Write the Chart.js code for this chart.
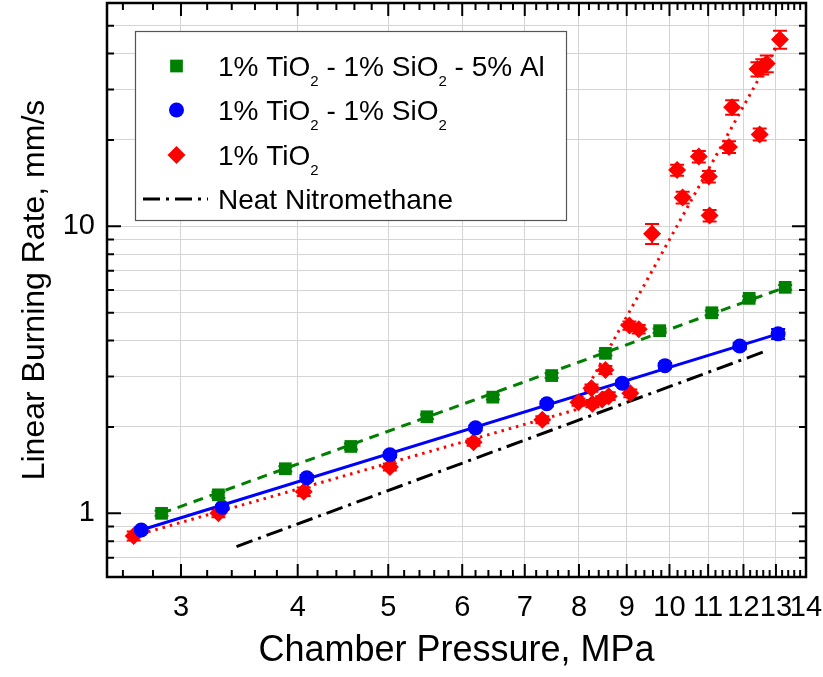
<!DOCTYPE html>
<html><head><meta charset="utf-8">
<script src="https://cdn.jsdelivr.net/npm/chart.js@4.4.1/dist/chart.umd.min.js"></script>
<style>html,body{margin:0;padding:0;background:#fff;}canvas{display:block;}</style>
</head><body>
<canvas id="c" width="823" height="677"></canvas>
<script>
// ---- data ----
const greenX = [2.86, 3.29, 3.88, 4.56, 5.50, 6.47, 7.48, 8.54, 9.76, 11.1, 12.17, 13.3];
const greenY = [1.0, 1.16, 1.43, 1.71, 2.17, 2.54, 3.02, 3.61, 4.33, 5.0, 5.61, 6.13];
const greenErr = [0.02, 0.03, 0.03, 0.04, 0.04, 0.05, 0.06, 0.06, 0.08, 0.09, 0.1, 0.12];

const blueX = [2.72, 3.32, 4.09, 5.02, 6.20, 7.39, 8.90, 9.89, 11.89, 13.07];
const blueY = [0.875, 1.05, 1.33, 1.60, 1.985, 2.41, 2.84, 3.27, 3.83, 4.22];
const blueErr = [0.02, 0.02, 0.03, 0.03, 0.04, 0.05, 0.06, 0.07, 0.1, 0.17];

const redX = [2.67, 3.29, 4.06, 5.02, 6.17, 7.31, 7.99, 8.25, 8.27, 8.47, 8.61, 8.54, 9.08, 9.06, 9.27, 9.58, 10.19, 10.33, 10.75, 11.02, 11.04, 11.58, 11.67, 12.49, 12.42, 12.57, 12.71, 13.13];
const redY = [0.834, 1.0, 1.19, 1.45, 1.77, 2.12, 2.44, 2.73, 2.41, 2.49, 2.56, 3.16, 2.62, 4.51, 4.38, 9.43, 15.7, 12.6, 17.5, 14.9, 10.9, 18.9, 26.0, 20.9, 35.3, 36.0, 36.9, 44.8];
const redErr = [0.03, 0.03, 0.04, 0.04, 0.05, 0.06, 0.07, 0.08, 0.07, 0.07, 0.08, 0.10, 0.08, 0.15, 0.15, 0.75, 0.7, 0.6, 0.8, 0.7, 0.5, 0.9, 1.5, 1.0, 2.0, 2.2, 2.5, 3.2];

// fit lines (end points)
const greenFitX = [2.86, 13.3];
const greenFitY = [1.0, 6.13];
const blueFitX = [2.72, 13.07];
const blueFitY = [0.875, 4.22];
const redFitX = [2.67, 7.92, 13.15];
const redFitY = [0.834, 2.29, 44.8];
const neatX = [3.44, 12.63];
const neatY = [0.766, 3.66];

// axis ticks
const xTickValues = [3, 4, 5, 6, 7, 8, 9, 10, 11, 12, 13, 14];
const yGridValues = [0.6, 0.7, 0.8, 0.9, 1, 2, 3, 4, 5, 6, 7, 8, 9, 10, 20, 30, 40, 50, 60];
const yLabelValues = [1, 10];

const seriesNames = ['1% TiO|2| - 1% SiO|2| - 5% Al', '1% TiO|2| - 1% SiO|2|', '1% TiO|2|', 'Neat Nitromethane'];

const GREEN = '#008000', BLUE = '#0000ff', RED = '#ff0000', BLACK = '#000000';
const FONT = '"Liberation Sans", Arial, sans-serif';

const pts = (xs, ys) => xs.map((x, i) => ({x: x, y: ys[i]}));

const errorBars = {
  id: 'errorBars',
  beforeDatasetsDraw(chart) {
    const {ctx, scales: {x, y}} = chart;
    const sets = [[greenX, greenY, greenErr, GREEN], [blueX, blueY, blueErr, BLUE], [redX, redY, redErr, RED]];
    ctx.save();
    ctx.lineWidth = 2;
    sets.forEach(([xs, ys, es, col]) => {
      ctx.strokeStyle = col;
      xs.forEach((xv, i) => {
        const px = x.getPixelForValue(xv);
        const p1 = y.getPixelForValue(ys[i] + es[i]);
        const p2 = y.getPixelForValue(ys[i] - es[i]);
        ctx.beginPath();
        ctx.moveTo(px, p1); ctx.lineTo(px, p2);
        ctx.moveTo(px - 7, p1); ctx.lineTo(px + 7, p1);
        ctx.moveTo(px - 7, p2); ctx.lineTo(px + 7, p2);
        ctx.stroke();
      });
    });
    ctx.restore();
  }
};

function drawMarker(ctx, style, cx, cy, r, col) {
  ctx.fillStyle = col;
  ctx.beginPath();
  if (style === 'rect') { const h = r * Math.SQRT1_2; ctx.rect(cx - h, cy - h, 2 * h, 2 * h); }
  else if (style === 'circle') { ctx.arc(cx, cy, r, 0, Math.PI * 2); }
  else { ctx.moveTo(cx - r, cy); ctx.lineTo(cx, cy - r); ctx.lineTo(cx + r, cy); ctx.lineTo(cx, cy + r); ctx.closePath(); }
  ctx.fill();
}

function drawRich(ctx, text, x, y, size) {
  const parts = text.split('|');
  let cx = x;
  parts.forEach((p, i) => {
    if (i % 2 === 1) {
      ctx.font = Math.round(size * 0.55) + 'px ' + FONT;
      ctx.fillText(p, cx, y + size * 0.36);
    } else {
      ctx.font = size + 'px ' + FONT;
      ctx.fillText(p, cx, y);
    }
    cx += ctx.measureText(p).width;
  });
}

const frameAndLegend = {
  id: 'frameAndLegend',
  afterDraw(chart) {
    const {ctx, chartArea: a, scales: {x, y}} = chart;
    ctx.save();
    // inward ticks
    ctx.strokeStyle = '#000';
    ctx.lineWidth = 2;
    const MAJ = 13, MIN = 7;
    ctx.beginPath();
    for (let k = 26; k < 140; k += 2) {
      const v = k / 10;
      const px = x.getPixelForValue(v);
      const L = (k % 10 === 0) ? MAJ : MIN;
      ctx.moveTo(px, a.bottom); ctx.lineTo(px, a.bottom - L);
      ctx.moveTo(px, a.top); ctx.lineTo(px, a.top + L);
    }
    yGridValues.forEach(v => {
      if (v <= 0.6 || v >= 60) return;
      const py = y.getPixelForValue(v);
      const L = yLabelValues.includes(v) ? MAJ + 1 : MIN;
      ctx.moveTo(a.left, py); ctx.lineTo(a.left + L, py);
      ctx.moveTo(a.right, py); ctx.lineTo(a.right - L, py);
    });
    ctx.stroke();
    // frame
    ctx.lineWidth = 2.5;
    ctx.strokeRect(a.left, a.top, a.right - a.left, a.bottom - a.top);

    // legend
    const bx = 135, by = 31, bw = 431, bh = 189;
    ctx.fillStyle = '#fff';
    ctx.fillRect(bx, by, bw, bh);
    ctx.strokeStyle = '#555';
    ctx.lineWidth = 1.2;
    ctx.strokeRect(bx + 0.5, by + 0.5, bw, bh);
    const rows = [66, 110, 155, 199];
    const mx = 176.5, tx = 218;
    drawMarker(ctx, 'rect', mx, rows[0], 9, GREEN);
    drawMarker(ctx, 'circle', mx, rows[1], 7.5, BLUE);
    drawMarker(ctx, 'rectRot', mx, rows[2], 9, RED);
    ctx.strokeStyle = BLACK;
    ctx.lineWidth = 3;
    ctx.setLineDash([17, 6, 3, 6]);
    ctx.beginPath(); ctx.moveTo(143, rows[3]); ctx.lineTo(208, rows[3]); ctx.stroke();
    ctx.setLineDash([]);
    ctx.fillStyle = '#000';
    ctx.textBaseline = 'alphabetic';
    ctx.textAlign = 'left';
    seriesNames.forEach((n, i) => drawRich(ctx, n, tx, rows[i] + 10, 28));
    ctx.restore();
  }
};

const ctx = document.getElementById('c').getContext('2d');
new Chart(ctx, {
  type: 'scatter',
  data: {
    datasets: [
      {label: 'g', data: pts(greenX, greenY), pointStyle: 'rect', pointRadius: 9, backgroundColor: GREEN, borderWidth: 0, showLine: false},
      {label: 'b', data: pts(blueX, blueY), pointStyle: 'circle', pointRadius: 7.5, backgroundColor: BLUE, borderWidth: 0, showLine: false},
      {label: 'r', data: pts(redX, redY), pointStyle: 'rectRot', pointRadius: 9, backgroundColor: RED, borderWidth: 0, showLine: false},
      {label: 'gf', data: pts(greenFitX, greenFitY), showLine: true, pointRadius: 0, borderColor: GREEN, borderWidth: 3, borderDash: [10, 7]},
      {label: 'bf', data: pts(blueFitX, blueFitY), showLine: true, pointRadius: 0, borderColor: BLUE, borderWidth: 3},
      {label: 'rf', data: pts(redFitX, redFitY), showLine: true, pointRadius: 0, borderColor: RED, borderWidth: 3, borderDash: [2.5, 5], tension: 0},
      {label: 'n', data: pts(neatX, neatY), showLine: true, pointRadius: 0, borderColor: BLACK, borderWidth: 3, borderDash: [17, 6, 3, 6]}
    ]
  },
  options: {
    responsive: false,
    animation: false,
    devicePixelRatio: 1,
    layout: {autoPadding: false, padding: {left: 0, right: 17, top: 3, bottom: 0}},
    plugins: {legend: {display: false}, tooltip: {enabled: false}},
    scales: {
      x: {
        type: 'logarithmic', min: 2.5, max: 14,
        afterBuildTicks: s => { s.ticks = xTickValues.map(v => ({value: v})); },
        afterFit: s => { s.height = 100; s.paddingLeft = 0; s.paddingRight = 0; },
        ticks: {autoSkip: false, maxRotation: 0, color: '#000', padding: 14,
          font: {family: FONT, size: 29}, callback: v => String(v)},
        grid: {color: '#d4d4d4', lineWidth: 1, drawTicks: false},
        border: {display: false},
        title: {display: true, text: 'Chamber Pressure, MPa', color: '#000',
          font: {family: FONT, size: 36}, padding: {top: 0, bottom: 4}}
      },
      y: {
        type: 'logarithmic', min: 0.6, max: 60,
        afterBuildTicks: s => { s.ticks = yGridValues.map(v => ({value: v})); },
        afterFit: s => { s.width = 107; s.paddingTop = 0; s.paddingBottom = 0; },
        ticks: {autoSkip: false, color: '#000', padding: 12,
          font: {family: FONT, size: 29},
          callback: v => yLabelValues.includes(v) ? String(v) : ''},
        grid: {color: '#d4d4d4', lineWidth: 1, drawTicks: false},
        border: {display: false},
        title: {display: true, text: 'Linear Burning Rate, mm/s', color: '#000',
          font: {family: FONT, size: 32}, padding: {top: 16, bottom: 0}}
      }
    }
  },
  plugins: [errorBars, frameAndLegend]
});
</script>
</body></html>
